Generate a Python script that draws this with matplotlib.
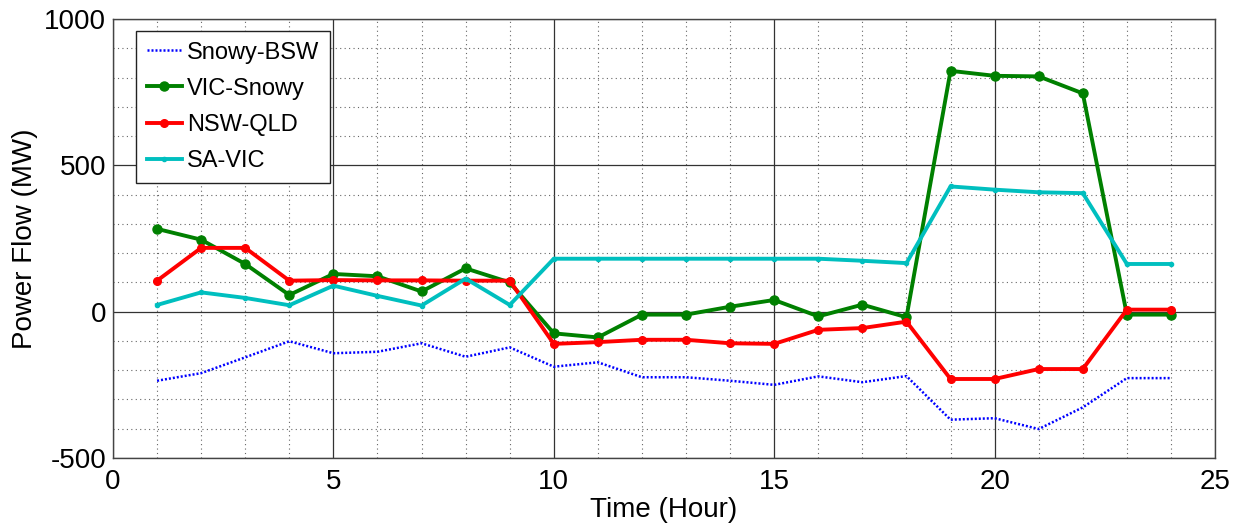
import numpy as np
import matplotlib
matplotlib.use('Agg')
import matplotlib.pyplot as plt
from matplotlib.ticker import MultipleLocator

plt.rcParams['font.family'] = ['Liberation Sans', 'DejaVu Sans']
plt.rcParams['axes.unicode_minus'] = False

# --- data (hour 1..24) ---
hours = np.arange(1, 25)
snowy_bsw = [-236, -210, -156, -101, -142, -137, -108, -154, -122, -188, -173, -224,
             -224, -236, -250, -221, -241, -220, -369, -364, -401, -327, -227, -227]
vic_snowy = [283, 246, 163, 57, 129, 121, 69, 148, 100, -74, -88, -10,
             -10, 17, 40, -16, 24, -19, 823, 806, 804, 746, -10, -10]
nsw_qld = [106, 218, 218, 106, 108, 107, 107, 106, 106, -110, -104, -96,
           -96, -108, -110, -62, -56, -34, -230, -230, -196, -196, 7, 7]
sa_vic = [23, 66, 47, 22, 89, 54, 21, 113, 23, 181, 181, 181,
          181, 181, 181, 181, 174, 166, 428, 417, 408, 405, 163, 163]

# --- plot ---
fig = plt.figure(figsize=(12.43, 5.29), dpi=100)
ax = fig.add_axes([0.0909, 0.1342, 0.8866, 0.8298])

ax.plot(hours, snowy_bsw, color='#0000ff', linewidth=1.8, linestyle=(0, (0.8, 0.8)),
        label='Snowy-BSW')
ax.plot(hours, vic_snowy, color='#008000', linewidth=2.8, marker='o',
        markersize=6.5, label='VIC-Snowy')
ax.plot(hours, nsw_qld, color='#ff0000', linewidth=2.8, marker='o',
        markersize=5.5, label='NSW-QLD')
ax.plot(hours, sa_vic, color='#00bfbf', linewidth=2.8, marker='.',
        markersize=6, label='SA-VIC')

# --- axes and grid ---
ax.set_xlim(0, 25)
ax.set_ylim(-500, 1000)
ax.xaxis.set_major_locator(MultipleLocator(5))
ax.yaxis.set_major_locator(MultipleLocator(500))
ax.xaxis.set_minor_locator(MultipleLocator(1))
ax.yaxis.set_minor_locator(MultipleLocator(100))
ax.grid(True, which='minor', color='#666666', linestyle=(0, (1, 3)), linewidth=0.8)
ax.grid(True, which='major', color='#333333', linestyle='-', linewidth=0.9)
ax.set_axisbelow(True)
ax.tick_params(which='both', length=0, labelsize=20)
ax.tick_params(axis='x', pad=8)
ax.tick_params(axis='y', pad=5)
for s in ax.spines.values():
    s.set_color('#444444')
    s.set_linewidth(1.0)

ax.set_xlabel('Time (Hour)', fontsize=20, labelpad=1)
ax.set_ylabel('Power Flow (MW)', fontsize=20, labelpad=4)

leg = ax.legend(loc='upper left', bbox_to_anchor=(0.021, 0.973), borderaxespad=0,
                fontsize=17, fancybox=False, edgecolor='#222222', framealpha=1,
                handlelength=1.5, handletextpad=0.2, labelspacing=0.6,
                borderpad=0.45)
leg.get_frame().set_linewidth(1.0)

fig.savefig('out.png', dpi=100)
